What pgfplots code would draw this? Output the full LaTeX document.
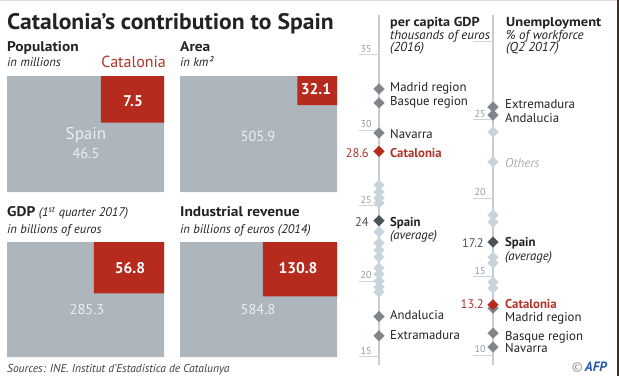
\documentclass[border=0pt]{standalone}
\usepackage{fontspec}
\setmainfont{PT Sans}
\usepackage{graphicx}
\usepackage{pgfplots}
\pgfplotsset{compat=1.18}
\definecolor{sq}{RGB}{172,182,188}
\definecolor{cat}{RGB}{183,42,30}
\definecolor{catt}{RGB}{176,52,40}
\definecolor{dk}{RGB}{128,133,138}
\definecolor{sp}{RGB}{75,82,85}
\definecolor{lt}{RGB}{200,212,220}
\definecolor{axl}{RGB}{198,206,212}
\definecolor{tkl}{RGB}{208,212,216}
\definecolor{tk}{RGB}{150,155,160}
\definecolor{txtc}{RGB}{35,35,35}
\definecolor{sqtxt}{RGB}{236,239,241}
\definecolor{afp}{RGB}{40,90,170}
\definecolor{strip}{RGB}{70,45,35}
\newcommand{\fs}[1]{\fontsize{#1}{#1}\selectfont}
\newcommand{\bx}[2]{\scalebox{#1}[1]{#2}}
\pgfplotsset{
  sqpanel/.style={scale only axis, width=157pt, xmin=0, xmax=1, ymin=0, ymax=1,
    axis lines=none, clip=false, anchor=south west},
  dia/.style={only marks, color=#1, mark=square*, mark size=3.8pt,
    mark options={rotate=45, fill=#1, draw=#1, line width=0.2pt}},
  vax/.style={scale only axis, width=40pt, height=350pt, xmin=-1, xmax=1,
    axis lines=none, clip=false, anchor=south west, unbounded coords=jump},
}
\begin{document}
\begin{tikzpicture}[x=1pt,y=1pt]
\fill[white] (0pt,0pt) rectangle (619pt,376pt);
\fill[black!12] (0pt,374.5pt) rectangle (619pt,376pt);
\fill[strip] (616.5pt,0pt) rectangle (619pt,376pt);

% ---- Population ----
\begin{axis}[sqpanel, height=116pt, at={(7pt,184pt)}]
\addplot[fill=sq, draw=none] coordinates {(0,0) (1,0) (1,1) (0,1) (0,0)};
\addplot[fill=cat, draw=none] coordinates {(0.5984,0.5984) (1,0.5984) (1,1) (0.5984,1) (0.5984,0.5984)};
\end{axis}
% ---- Area ----
\begin{axis}[sqpanel, height=116pt, at={(180pt,184pt)}]
\addplot[fill=sq, draw=none] coordinates {(0,0) (1,0) (1,1) (0,1) (0,0)};
\addplot[fill=cat, draw=none] coordinates {(0.7481,0.7481) (1,0.7481) (1,1) (0.7481,1) (0.7481,0.7481)};
\end{axis}
% ---- GDP ----
\begin{axis}[sqpanel, height=115pt, at={(7pt,19pt)}]
\addplot[fill=sq, draw=none] coordinates {(0,0) (1,0) (1,1) (0,1) (0,0)};
\addplot[fill=cat, draw=none] coordinates {(0.5538,0.5538) (1,0.5538) (1,1) (0.5538,1) (0.5538,0.5538)};
\end{axis}
% ---- Industrial revenue ----
\begin{axis}[sqpanel, height=115pt, at={(180pt,19pt)}]
\addplot[fill=sq, draw=none] coordinates {(0,0) (1,0) (1,1) (0,1) (0,0)};
\addplot[fill=cat, draw=none] coordinates {(0.5271,0.5271) (1,0.5271) (1,1) (0.5271,1) (0.5271,0.5271)};
\end{axis}

% ---- per capita GDP axis ----
\begin{axis}[vax, ymin=14.44, ymax=37.62, at={(359pt,11pt)}]
\addplot[axl, line width=2.5pt] coordinates {(0,14.44) (0,37.62)};
\addplot[tkl, line width=0.7pt] coordinates {(-1,15) (0,15) (nan,nan) (-1,20) (0,20) (nan,nan) (-1,25) (0,25) (nan,nan) (-1,30) (0,30) (nan,nan) (-1,35) (0,35)};
\addplot[dia=lt] coordinates {(0,26.36) (0,25.89) (0,25.5) (0,25.17) (0,23.25) (0,22.52) (0,22.05) (0,21.59) (0,20.86) (0,20.46) (0,20.0) (0,19.6) (0,19.27)};
\addplot[dia=dk] coordinates {(0,32.72) (0,31.8) (0,29.81) (0,17.65) (0,16.37)};
\addplot[dia=sp] coordinates {(0,24)};
\addplot[dia=cat] coordinates {(0,28.59)};
\end{axis}

% ---- Unemployment axis ----
\begin{axis}[vax, ymin=9.37, ymax=31.66, at={(473pt,11pt)}]
\addplot[axl, line width=2.5pt] coordinates {(0,9.37) (0,31.66)};
\addplot[tkl, line width=0.7pt] coordinates {(-1,10) (0,10) (nan,nan) (-1,15) (0,15) (nan,nan) (-1,20) (0,20) (nan,nan) (-1,25) (0,25) (nan,nan) (-1,30) (0,30)};
\addplot[dia=lt] coordinates {(0,24.21) (0,22.3) (0,18.92) (0,18.47) (0,16.24) (0,15.86) (0,14.65) (0,14.27)};
\addplot[dia=dk] coordinates {(0,25.8) (0,25.29) (0,12.99) (0,11.4) (0,10.51)};
\addplot[dia=sp] coordinates {(0,17.2)};
\addplot[dia=cat] coordinates {(0,13.2)};
\end{axis}

% ---- texts (pixel coordinates, y downwards) ----
\begin{scope}[shift={(0pt,376pt)}, x=1pt, y=-1pt, every node/.style={inner sep=0pt, text=txtc}]
\node[anchor=base west] at (7,29) {\fs{22.5}\bfseries\bx{1.05}{Catalonia’s contribution to Spain}};
% panel headers
\node[anchor=base west] at (7,51.7) {\fs{14}\bfseries\bx{1.1}{Population}};
\node[anchor=base west] at (7,66.7) {\fs{12.5}\itshape in millions};
\node[anchor=base east, text=catt] at (166,67.7) {\fs{16}Catalonia};
\node[anchor=base west] at (180,51.7) {\fs{14}\bfseries\bx{1.1}{Area}};
\node[anchor=base west] at (180,66.7) {\fs{12.5}\itshape in km²};
\node[anchor=base west] at (7,216.7) {\fs{14}\bfseries\bx{1.1}{GDP} \fs{12.5}\mdseries\itshape (1\textsuperscript{st} quarter 2017)};
\node[anchor=base west] at (7,233.3) {\fs{12.5}\itshape in billions of euros};
\node[anchor=base west] at (180,216.7) {\fs{14}\bfseries\bx{1.1}{Industrial revenue}};
\node[anchor=base west] at (180,233.3) {\fs{12.5}\itshape in billions of euros (2014)};
% square values
\node[anchor=base, text=sqtxt] at (86,139) {\fs{17}Spain};
\node[anchor=base, text=sqtxt] at (86,158) {\fs{14.5}46.5};
\node[anchor=base, text=white] at (133,106) {\fs{15.5}\bfseries 7.5};
\node[anchor=base, text=sqtxt] at (258,141.3) {\fs{14.5}505.9};
\node[anchor=base, text=white] at (316,94.3) {\fs{15.5}\bfseries 32.1};
\node[anchor=base, text=white] at (130,273.3) {\fs{15.5}\bfseries 56.8};
\node[anchor=base, text=sqtxt] at (87,314.3) {\fs{14.5}285.3};
\node[anchor=base, text=white] at (298,273.3) {\fs{15.5}\bfseries 130.8};
\node[anchor=base, text=sqtxt] at (258,314.3) {\fs{14.5}584.8};
\node[anchor=base west, text=black!75] at (7,372) {\fs{11.5}\itshape Sources: INE. Institut d'Estadistica de Catalunya};
% right headers
\node[anchor=base west] at (390,26.7) {\fs{13}\bfseries\bx{1.09}{per capita GDP}};
\node[anchor=base west] at (390,39.3) {\fs{13}\itshape thousands of euros};
\node[anchor=base west] at (390,51.7) {\fs{13}\itshape (2016)};
\node[anchor=base west] at (506,26.7) {\fs{13}\bfseries\bx{1.12}{Unemployment}};
\node[anchor=base west] at (506,39.3) {\fs{13}\itshape \% of workforce};
\node[anchor=base west] at (506,51.7) {\fs{13}\itshape (Q2 2017)};
% tick labels
\foreach \v/\y in {35/54.5, 30/130, 25/205.5, 20/281, 15/356.5}
  \node[anchor=base, text=tk] at (366,\y-2.5) {\fs{10}\v};
\foreach \v/\y in {25/119.5, 20/198, 15/276.5, 10/355}
  \node[anchor=base, text=tk] at (480,\y-2.5) {\fs{10}\v};
% value labels
\node[anchor=base east, text=catt] at (369,157) {\fs{12.5}28.6};
\node[anchor=base east, text=sp] at (369,226) {\fs{12.5}24};
\node[anchor=base east, text=sp] at (484,247) {\fs{12.5}17.2};
\node[anchor=base east, text=catt] at (484,308.5) {\fs{12.5}13.2};
% left region labels
\node[anchor=base west] at (390,91.8) {\fs{12.8}Madrid region};
\node[anchor=base west] at (390,105.5) {\fs{12.8}Basque region};
\node[anchor=base west] at (390,138.8) {\fs{12.8}Navarra};
\node[anchor=base west, text=catt] at (390,157.8) {\fs{12.8}\bfseries Catalonia};
\node[anchor=base west] at (390,226.2) {\fs{12.8}\bfseries Spain};
\node[anchor=base west] at (390,239.5) {\fs{12.8}\itshape (average)};
\node[anchor=base west] at (390,319.5) {\fs{12.8}Andalucia};
\node[anchor=base west] at (390,339.5) {\fs{12.8}Extramadura};
% right region labels
\node[anchor=base west] at (505,108.8) {\fs{12.8}Extremadura};
\node[anchor=base west] at (505,122.8) {\fs{12.8}Andalucia};
\node[anchor=base west, text=tk!80] at (505,167.8) {\fs{12.8}\itshape Others};
\node[anchor=base west] at (505,246.5) {\fs{12.8}\bfseries Spain};
\node[anchor=base west] at (505,260) {\fs{12.8}\itshape (average)};
\node[anchor=base west, text=catt] at (505,308.8) {\fs{12.8}\bfseries Catalonia};
\node[anchor=base west] at (505,321.5) {\fs{12.8}Madrid region};
\node[anchor=base west] at (505,340) {\fs{12.8}Basque region};
\node[anchor=base west] at (505,352.8) {\fs{12.8}Navarra};
% AFP
\node[anchor=base east] at (607,371) {\fs{13.5}\textcolor{tk}{©}\,\textcolor{afp}{\bfseries\itshape AFP}};
\end{scope}
\end{tikzpicture}
\end{document}
